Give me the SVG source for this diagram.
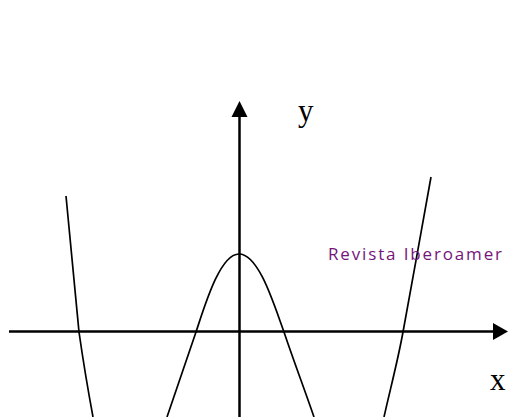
<svg xmlns="http://www.w3.org/2000/svg" width="508" height="417" viewBox="0 0 508 417">
<style>
.axis{stroke:#000;stroke-width:2.5;fill:none}
.curve{stroke:#000;stroke-width:1.7;fill:none}
.head{fill:#000}
.lbl{font-family:"Liberation Serif",serif;font-size:31px;fill:#000}
.wm{font-family:"Open Sans","Noto Sans",sans-serif;font-size:17px;fill:#76147a}
</style>
<rect width="508" height="417" fill="#fff"/>
<g id="axes">
<line class="axis" x1="9" y1="331.5" x2="494" y2="331.5"/>
<polygon class="head" points="493,323 508,331.5 493,340"/>
<line class="axis" x1="239.5" y1="116" x2="239.5" y2="417"/>
<polygon class="head" points="231.5,117 239.5,101 247.5,117"/>
</g>
<g id="curves">
<path class="curve" d="M66,196 C71,250 75,290 79,332 C83,360 88,390 93,417"/>
<path class="curve" d="M167,417 C177,388 187,359 196,332 C205,305 220,254 239,254 C259,254 274,305 284,332 C293,359 304,388 314,417"/>
<path class="curve" d="M431,177 C425,210 409,300 403,332 C398,360 390,390 384,417"/>
</g>
<g id="labels">
<text class="lbl" x="298" y="121">y</text>
<text class="lbl" x="490" y="390">x</text>
<text class="wm" x="328" y="259.5" textLength="174" lengthAdjust="spacing">Revista Iberoamer</text>
</g>
</svg>
